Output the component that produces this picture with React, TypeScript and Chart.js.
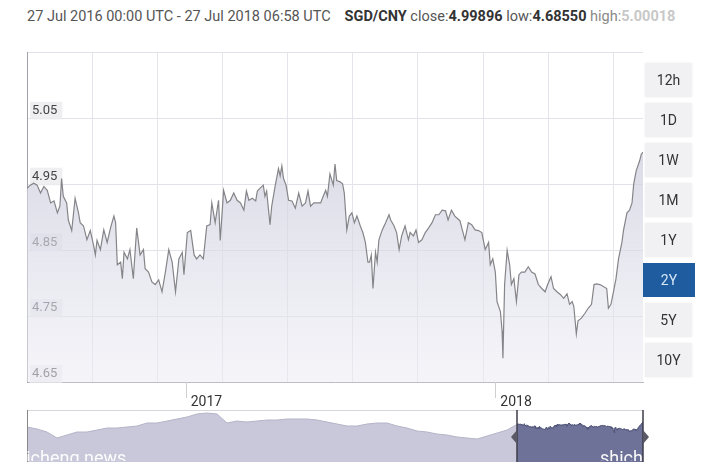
import React, { useEffect, useRef } from 'react';
import { Chart, registerables } from 'chart.js';

Chart.register(...registerables);

// ---- data ----
const dateRangeText = '27 Jul 2016 00:00 UTC - 27 Jul 2018 06:58 UTC';
const pairName = 'SGD/CNY';
const statLabels = ['close:', 'low:', 'high:'];
const statValues = ['4.99896', '4.68550', '5.00018'];

// [days since 27 Jul 2016, SGD/CNY rate]
const series: [number, number][] = [
  [0, 4.944], [4, 4.949], [8, 4.952], [12, 4.949], [16, 4.937], [20, 4.947], [24, 4.941], [28, 4.922],
  [32, 4.925], [36, 4.907], [39, 4.917], [41, 4.959], [43, 4.932], [47, 4.922], [49, 4.896], [53, 4.880],
  [57, 4.929], [61, 4.907], [63, 4.892], [67, 4.887], [71, 4.866], [75, 4.880], [79, 4.857], [81, 4.843],
  [83, 4.865], [87, 4.851], [91, 4.881], [95, 4.862], [99, 4.884], [103, 4.902], [105, 4.892], [107, 4.828],
  [111, 4.832], [113, 4.807], [115, 4.847], [119, 4.837], [122, 4.851], [126, 4.807], [130, 4.884], [134, 4.843],
  [138, 4.851], [140, 4.822], [144, 4.817], [148, 4.802], [152, 4.798], [156, 4.805], [160, 4.787], [164, 4.817],
  [168, 4.851], [172, 4.832], [176, 4.787], [180, 4.837], [184, 4.847], [186, 4.813], [190, 4.877], [194, 4.880],
  [198, 4.843], [201, 4.837], [205, 4.843], [209, 4.837], [213, 4.887], [217, 4.889], [219, 4.922], [223, 4.892],
  [227, 4.926], [229, 4.865], [233, 4.941], [237, 4.922], [241, 4.926], [245, 4.937], [249, 4.926], [253, 4.922],
  [257, 4.911], [260, 4.940], [263, 4.926], [267, 4.929], [271, 4.925], [273, 4.940], [276, 4.944], [280, 4.949],
  [282, 4.932], [284, 4.940], [288, 4.889], [290, 4.917], [294, 4.947], [298, 4.974], [300, 4.963], [302, 4.978],
  [304, 4.959], [307, 4.949], [310, 4.926], [314, 4.925], [318, 4.914], [322, 4.937], [326, 4.917], [330, 4.922],
  [333, 4.940], [336, 4.917], [340, 4.922], [344, 4.922], [348, 4.922], [351, 4.932], [354, 4.941], [356, 4.932],
  [359, 4.966], [363, 4.949], [365, 4.981], [367, 4.956], [371, 4.954], [374, 4.951], [376, 4.937], [379, 4.881],
  [382, 4.902], [385, 4.907], [388, 4.892], [391, 4.902], [395, 4.887], [398, 4.877], [401, 4.862], [404, 4.832],
  [406, 4.832], [408, 4.843], [410, 4.792], [413, 4.847], [415, 4.832], [417, 4.866], [421, 4.881], [425, 4.892],
  [429, 4.904], [431, 4.896], [435, 4.887], [438, 4.877], [441, 4.851], [444, 4.872], [448, 4.887], [452, 4.866],
  [454, 4.877], [458, 4.872], [461, 4.881], [464, 4.862], [468, 4.866], [472, 4.877], [476, 4.884], [480, 4.892],
  [484, 4.904], [488, 4.904], [492, 4.911], [496, 4.910], [499, 4.896], [503, 4.911], [507, 4.902], [513, 4.895],
  [519, 4.866], [523, 4.892], [527, 4.889], [531, 4.881], [535, 4.880], [539, 4.877], [543, 4.851], [547, 4.862],
  [549, 4.828], [552, 4.837], [555, 4.817], [557, 4.772], [561, 4.757], [563, 4.728], [564, 4.686], [566, 4.798],
  [569, 4.850], [572, 4.828], [574, 4.798], [577, 4.807], [580, 4.772], [583, 4.813], [586, 4.817], [590, 4.817],
  [594, 4.825], [598, 4.817], [602, 4.814], [606, 4.798], [610, 4.792], [614, 4.787], [617, 4.798], [621, 4.810],
  [624, 4.792], [628, 4.787], [632, 4.783], [636, 4.777], [640, 4.784], [643, 4.768], [646, 4.772], [648, 4.765],
  [651, 4.723], [653, 4.743], [657, 4.747], [661, 4.754], [665, 4.762], [669, 4.768], [672, 4.798], [675, 4.799],
  [679, 4.798], [683, 4.795], [687, 4.792], [689, 4.762], [692, 4.768], [695, 4.787], [698, 4.807], [701, 4.837],
  [705, 4.862], [707, 4.881], [711, 4.907], [714, 4.911], [717, 4.922], [719, 4.951], [722, 4.971], [726, 4.986],
  [728, 4.996], [730, 4.999],
];

const yTickValues = [4.65, 4.75, 4.85, 4.95, 5.05, 5.15];
const yTickLabels = ['4.65', '4.75', '4.85', '4.95', '5.05', ''];
const yearLabels = ['2017', '2018'];
const yearTickDays = [188, 555];
const gridDays = [77, 154, 231, 308, 385, 462, 540, 617, 694];

// navigator history before the selected 2-year window (one value every 58 days)
const navHistory = [
  4.865, 4.805, 4.715, 4.535, 4.625, 4.715, 4.715, 4.775, 4.835, 4.835,
  4.865, 4.895, 4.985, 4.985, 5.045, 5.105, 5.165, 5.255, 5.285, 5.255,
  4.985, 5.045, 5.015, 5.045, 5.075, 5.075, 5.105, 5.105, 5.105, 5.075,
  5.015, 4.955, 4.895, 4.895, 4.955, 4.985, 4.985, 4.895, 4.835, 4.745,
  4.715, 4.655, 4.625, 4.565, 4.535, 4.505, 4.595, 4.685, 4.775,
];
const navHistoryStepDays = 58;

const rangeButtons = ['12h', '1D', '1W', '1M', '1Y', '2Y', '5Y', '10Y'];
const activeRange = '2Y';
const watermark = 'shicheng news';

const FONT = 'Roboto, "Noto Sans", sans-serif';

export default function App() {
  const mainRef = useRef<HTMLCanvasElement>(null);
  const navRef = useRef<HTMLCanvasElement>(null);

  useEffect(() => {
    const points = series.map(([d, v]) => ({ x: d, y: v }));

    const extras = {
      id: 'extras',
      beforeDatasetsDraw(chart: any) {
        const { ctx, chartArea, scales } = chart;
        ctx.save();
        ctx.strokeStyle = '#e4e4ea';
        ctx.lineWidth = 1;
        gridDays.forEach((d) => {
          const px = Math.round(scales.x.getPixelForValue(d)) + 0.5;
          ctx.beginPath();
          ctx.moveTo(px, chartArea.top);
          ctx.lineTo(px, chartArea.bottom);
          ctx.stroke();
        });
        ctx.restore();
      },
      afterDraw(chart: any) {
        const { ctx, chartArea, scales } = chart;
        ctx.save();
        ctx.strokeStyle = '#cfcfcf';
        ctx.lineWidth = 1;
        yearTickDays.forEach((d) => {
          const px = Math.round(scales.x.getPixelForValue(d)) + 0.5;
          ctx.beginPath();
          ctx.moveTo(px, chartArea.bottom);
          ctx.lineTo(px, chartArea.bottom + 16);
          ctx.stroke();
        });
        ctx.restore();
      },
    };

    const main = new Chart(mainRef.current!, {
      type: 'line',
      data: {
        datasets: [
          {
            data: points,
            borderColor: '#858589',
            borderWidth: 1.2,
            pointRadius: 0,
            tension: 0,
            fill: 'start',
            backgroundColor: (c: any) => {
              const { chart } = c;
              const area = chart.chartArea;
              if (!area) return 'rgba(215,215,228,0.6)';
              const g = chart.ctx.createLinearGradient(0, area.top + 90, 0, area.bottom);
              g.addColorStop(0, 'rgba(205,205,222,0.75)');
              g.addColorStop(1, 'rgba(236,236,244,0.55)');
              return g;
            },
          },
        ],
      },
      options: {
        animation: false,
        responsive: false,
        maintainAspectRatio: false,
        layout: { padding: { left: 10, right: 10, top: 7, bottom: 0 } },
        plugins: { legend: { display: false }, tooltip: { enabled: false } },
        scales: {
          x: {
            type: 'linear',
            min: 0,
            max: 730,
            afterBuildTicks: (s: any) => {
              s.ticks = yearTickDays.map((v) => ({ value: v }));
            },
            afterFit: (s: any) => {
              s.height = 28;
            },
            ticks: {
              callback: (v: any) => {
                const i = yearTickDays.indexOf(v);
                return i >= 0 ? yearLabels[i] : '';
              },
              align: 'start',
              labelOffset: 5,
              padding: 4,
              maxRotation: 0,
              autoSkip: false,
              color: '#333',
              font: { family: FONT, size: 14 },
            },
            grid: { display: false },
            border: { display: true, color: '#bdbdc4', width: 1 },
          },
          y: {
            min: 4.65,
            max: 5.15,
            afterBuildTicks: (s: any) => {
              s.ticks = yTickValues.map((v) => ({ value: v }));
            },
            afterFit: (s: any) => {
              s.width = 0;
            },
            ticks: {
              mirror: true,
              padding: 5,
              labelOffset: -8,
              callback: (v: any, i: number) => yTickLabels[i],
              color: '#444',
              font: { family: FONT, size: 13 },
              showLabelBackdrop: true,
              backdropColor: (c: any) =>
                c.index === yTickValues.length - 1 ? 'rgba(0,0,0,0)' : 'rgba(236,236,240,0.85)',
              backdropPadding: { top: 1, bottom: 1, left: 2, right: 5 },
            },
            grid: { color: '#e2e2e8', drawTicks: false },
            border: { display: true, color: '#a0a0a6', width: 1 },
          },
        },
      },
      plugins: [extras],
    });

    const navStart = -navHistory.length * navHistoryStepDays;
    const histPoints = navHistory.map((v, i) => ({ x: navStart + i * navHistoryStepDays, y: v }));

    const navExtras = {
      id: 'navExtras',
      afterDraw(chart: any) {
        const { ctx, chartArea, scales } = chart;
        const top = chartArea.top;
        const bottom = chartArea.bottom;
        ctx.save();
        ctx.strokeStyle = '#d6d6dc';
        ctx.lineWidth = 1;
        ctx.beginPath();
        ctx.moveTo(chartArea.left, top + 0.5);
        ctx.lineTo(chartArea.right, top + 0.5);
        ctx.stroke();
        ctx.strokeStyle = '#888';
        ctx.beginPath();
        ctx.moveTo(chartArea.left + 0.5, top);
        ctx.lineTo(chartArea.left + 0.5, bottom);
        ctx.stroke();
        const x0 = Math.round(scales.x.getPixelForValue(0));
        const x1 = Math.round(scales.x.getPixelForValue(730));
        ctx.strokeStyle = '#3c3c48';
        ctx.lineWidth = 1.5;
        [x0, x1].forEach((px) => {
          ctx.beginPath();
          ctx.moveTo(px, top);
          ctx.lineTo(px, bottom);
          ctx.stroke();
        });
        const mid = top + 27;
        ctx.fillStyle = '#5a5a66';
        ctx.beginPath();
        ctx.moveTo(x0, mid - 7);
        ctx.lineTo(x0 - 6, mid);
        ctx.lineTo(x0, mid + 7);
        ctx.closePath();
        ctx.fill();
        ctx.beginPath();
        ctx.moveTo(x1, mid - 7);
        ctx.lineTo(x1 + 6, mid);
        ctx.lineTo(x1, mid + 7);
        ctx.closePath();
        ctx.fill();
        ctx.restore();
      },
    };

    const nav = new Chart(navRef.current!, {
      type: 'line',
      data: {
        datasets: [
          {
            data: points,
            borderColor: '#4e5274',
            borderWidth: 1,
            pointRadius: 0,
            tension: 0,
            fill: 'start',
            backgroundColor: '#6e7298',
            order: 1,
          },
          {
            data: [...histPoints, ...points],
            borderColor: '#b4b4c8',
            borderWidth: 1,
            pointRadius: 0,
            tension: 0,
            fill: 'start',
            backgroundColor: '#c8c8da',
            order: 2,
          },
        ],
      },
      options: {
        animation: false,
        responsive: false,
        maintainAspectRatio: false,
        layout: { padding: { left: 10, right: 19, top: 0, bottom: 0 } },
        plugins: { legend: { display: false }, tooltip: { enabled: false } },
        scales: {
          x: { type: 'linear', display: false, min: navStart, max: 730 },
          y: { display: false, min: 3.815, max: 5.375 },
        },
      },
      plugins: [navExtras],
    });

    return () => {
      main.destroy();
      nav.destroy();
    };
  }, []);

  return (
    <div
      style={{
        position: 'fixed',
        left: 0,
        top: 0,
        width: 708,
        height: 472,
        background: '#fff',
        overflow: 'hidden',
        fontFamily: FONT,
      }}
    >
      <div
        style={{
          position: 'absolute',
          left: 27,
          top: 8,
          fontSize: 14.5,
          lineHeight: '18px',
          color: '#555',
          whiteSpace: 'nowrap',
        }}
      >
        <span>{dateRangeText}</span>
        <span style={{ marginLeft: 14, fontWeight: 700, color: '#333' }}>{pairName}</span>
        {statLabels.map((l, i) => (
          <span key={l}>
            <span style={{ color: i === 2 ? '#888' : '#555' }}> {l}</span>
            <span style={{ fontWeight: 700, color: i === 2 ? '#c8c8c8' : '#333' }}>{statValues[i]}</span>
          </span>
        ))}
      </div>

      <canvas
        ref={mainRef}
        width={636}
        height={370}
        style={{ position: 'absolute', left: 17, top: 40, width: 636, height: 370 }}
      />

      {rangeButtons.map((b, i) => {
        const active = b === activeRange;
        return (
          <div
            key={b}
            style={{
              position: 'absolute',
              left: active ? 643 : 645,
              top: 63 + i * 40,
              width: active ? 52 : 47,
              height: 34,
              background: active ? '#1f5c9f' : '#f1f1f3',
              boxShadow: active ? 'none' : '0 0 3px rgba(0,0,0,0.06)',
              color: active ? '#d6e6f8' : '#333',
              fontSize: 14,
              lineHeight: '34px',
              textAlign: 'center',
            }}
          >
            {b}
          </div>
        );
      })}

      <canvas
        ref={navRef}
        width={645}
        height={52}
        style={{ position: 'absolute', left: 17, top: 410, width: 645, height: 52 }}
      />
      <div
        style={{
          position: 'absolute',
          left: 27,
          top: 410,
          width: 616,
          height: 51,
          overflow: 'hidden',
          pointerEvents: 'none',
        }}
      >
        <span
          style={{
            position: 'absolute',
            left: -20,
            top: 39,
            fontSize: 18,
            lineHeight: '18px',
            color: 'rgba(255,255,255,0.95)',
            whiteSpace: 'nowrap',
          }}
        >
          {watermark}
        </span>
        <span
          style={{
            position: 'absolute',
            left: 573,
            top: 39,
            fontSize: 18,
            lineHeight: '18px',
            color: 'rgba(255,255,255,0.95)',
            whiteSpace: 'nowrap',
          }}
        >
          {watermark}
        </span>
      </div>
    </div>
  );
}
